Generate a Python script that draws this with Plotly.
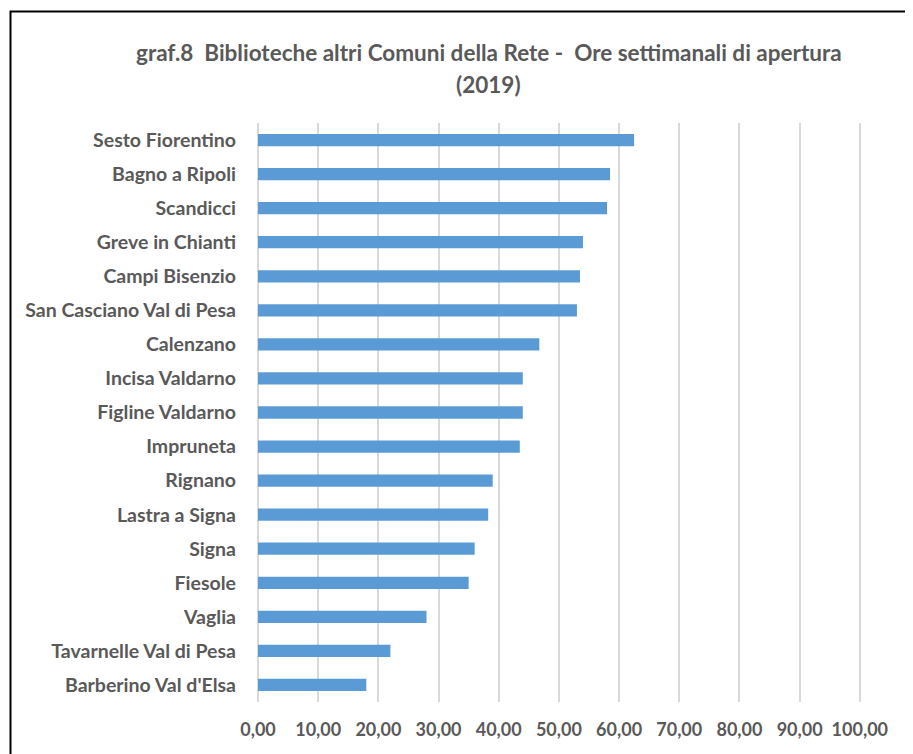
import plotly.graph_objects as go

comuni = [
    "Sesto Fiorentino", "Bagno a Ripoli", "Scandicci", "Greve in Chianti",
    "Campi Bisenzio", "San Casciano Val di Pesa", "Calenzano", "Incisa Valdarno",
    "Figline Valdarno", "Impruneta", "Rignano", "Lastra a Signa", "Signa",
    "Fiesole", "Vaglia", "Tavarnelle Val di Pesa", "Barberino Val d'Elsa",
]
ore = [62.5, 58.5, 58.0, 54.0, 53.5, 53.0, 46.75, 44.0, 44.0, 43.5, 39.0,
       38.25, 36.0, 35.0, 28.0, 22.0, 18.0]
x_ticks = [0, 10, 20, 30, 40, 50, 60, 70, 80, 90, 100]

FONT = "Lato, 'Open Sans', sans-serif"
GRAY = "#595959"

fig = go.Figure(go.Bar(
    x=ore, y=comuni, orientation="h",
    marker=dict(color="#5B9BD5", line=dict(width=0)),
    width=0.36,
))

# the page body has an 8px margin, so work in figure coords = screen - 8
OFF = 8
W, H = 913 - OFF, 754 - OFF
L = 258 - OFF
T = 123 - OFF
plot_right = 861 - OFF
plot_bottom = 702 - OFF
R = W - plot_right
B = H - plot_bottom
pw, ph = plot_right - L, plot_bottom - T


def px(xs):
    return (xs - OFF - L) / pw


def py(ys):
    return (plot_bottom - (ys - OFF)) / ph


fig.update_layout(
    width=W, height=H,
    margin=dict(l=L, r=R, t=T, b=B),
    paper_bgcolor="white", plot_bgcolor="white",
    separators=",.",
    showlegend=False,
    font=dict(family=FONT),
    xaxis=dict(
        range=[0, 100.2], tickvals=x_ticks, tickformat=".2f",
        showgrid=True, gridcolor="#D9D9D9", gridwidth=1.5,
        zeroline=True, zerolinecolor="#D9D9D9", zerolinewidth=1.5,
        showline=False,
        tickfont=dict(family=FONT, size=18, color=GRAY, weight="bold"),
        ticklabelstandoff=15,
        fixedrange=True,
    ),
    yaxis=dict(
        categoryorder="array", categoryarray=comuni, autorange="reversed",
        showgrid=False, showline=False,
        tickfont=dict(family=FONT, size=19.5, color=GRAY, weight="bold"),
        ticklabelstandoff=21,
    ),
    annotations=[
        dict(text="graf.8  Biblioteche altri Comuni della Rete -  Ore settimanali di apertura",
             xref="paper", yref="paper", x=px(488.5), y=py(53),
             xanchor="center", yanchor="middle", showarrow=False,
             font=dict(family=FONT, size=22.5, color=GRAY, weight="bold")),
        dict(text="(2019)",
             xref="paper", yref="paper", x=px(488.5), y=py(84),
             xanchor="center", yanchor="middle", showarrow=False,
             font=dict(family=FONT, size=22.5, color=GRAY, weight="bold")),
    ],
    shapes=[
        dict(type="rect", xref="paper", yref="paper",
             x0=px(10.5), x1=px(930),
             y0=py(770), y1=py(11.5),
             line=dict(color="black", width=2), fillcolor="rgba(0,0,0,0)"),
    ],
)

fig.write_html("out.html")
